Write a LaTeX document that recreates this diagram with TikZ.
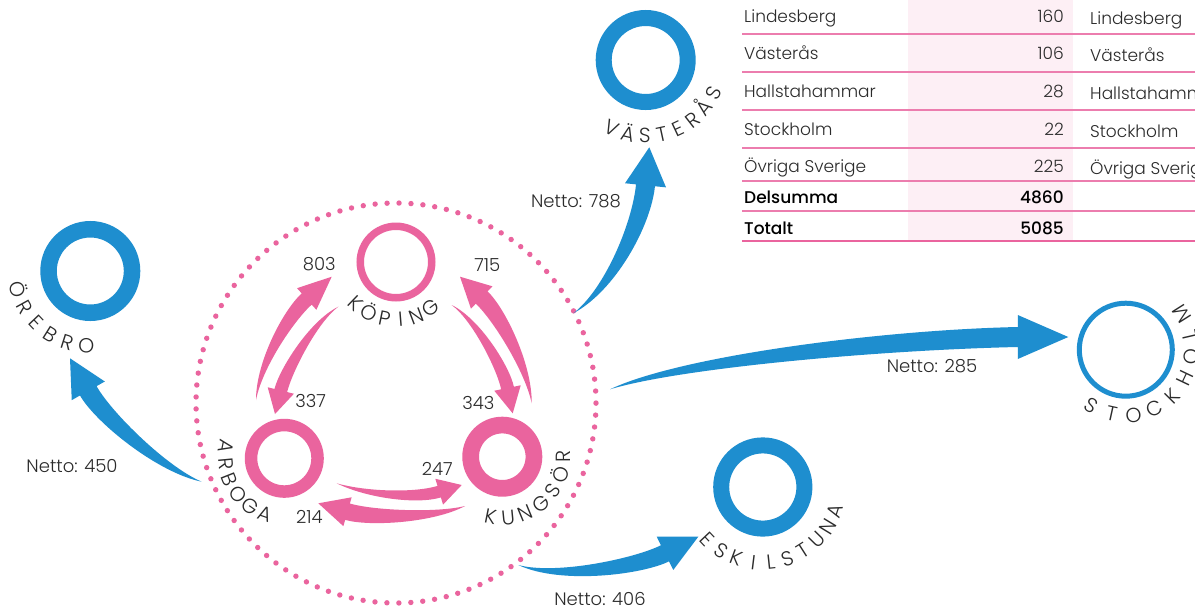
\documentclass[tikz,border=0pt]{standalone}
\usepackage{fontspec}
\setmainfont{Poppins}[UprightFont={* Light},BoldFont={* Medium}]
\usetikzlibrary{calc}
\definecolor{pk}{HTML}{EA649E}
\definecolor{bl}{HTML}{1E8ECF}
\definecolor{tx}{HTML}{2B2B2B}
\definecolor{band}{HTML}{FDEFF5}
\definecolor{rulepk}{HTML}{EC7DAE}
\tikzset{
  lbl/.style={font=\fontsize{20.5}{20.5}\selectfont, text=tx, inner sep=0pt, text height=14pt, text depth=0pt, anchor=center},
  num/.style={font=\fontsize{18}{18}\selectfont, text=tx, inner sep=0pt, text height=13pt, text depth=0pt},
  tbl/.style={font=\fontsize{17}{17}\selectfont, text=tx, inner sep=0pt, text height=12pt, text depth=0pt},
  tblb/.style={font=\fontsize{17}{17}\selectfont\bfseries, text=black, inner sep=0pt, text height=12pt, text depth=0pt},
}
% #1 colour, #2 tail, #3 c1, #4 c2, #5 head base, #6 tip, #7 half body width, #8 head half width
\newcommand\swoosh[8]{%
  \coordinate (sL) at ($(#5)!#7!90:(#6)$);
  \coordinate (sR) at ($(#5)!#7!-90:(#6)$);
  \coordinate (hL) at ($(#5)!#8!90:(#6)$);
  \coordinate (hR) at ($(#5)!#8!-90:(#6)$);
  \fill[#1] (#2) .. controls ($(#3)+0.6*(sL)-0.6*(#5)$) and ($(#4)+(sL)-(#5)$) .. (sL)
     -- (hL) -- (#6) -- (hR) -- (sR)
     .. controls ($(#4)+(sR)-(#5)$) and ($(#3)+0.6*(sR)-0.6*(#5)$) .. (#2) -- cycle;
}
% #1 prefix, #2 centre, #3 radius, #4 start angle, #5 step, #6 letters
\newcommand\ringlabel[6]{%
  \foreach \ch [count=\i from 0] in {#6} {%
    \pgfmathsetmacro\ang{#4+\i*#5}
    \node[lbl, rotate=\ang+90] (#1\i) at ($(#2)+(\ang:#3)$) {\ch};
  }}
\begin{document}
\begin{tikzpicture}[x=1pt,y=1pt]
\useasboundingbox (0,0) rectangle (1195,-606);
\fill[white] (0,0) rectangle (1195,-606);

% ---------- table ----------
\fill[band] (908,0) rectangle (1073,-241);
\foreach \y in {34,72,110,148,181,211}
  \draw[rulepk, line width=1.5pt] (742,-\y) -- (1195,-\y);
\draw[pk, line width=1.6pt] (742,-241) -- (1195,-241);

\node[tbl, anchor=west] (t1a) at (744,-16) {Lindesberg};
\node[tbl, anchor=west] (t2a) at (744,-53) {Västerås};
\node[tbl, anchor=west] (t3a) at (744,-91) {Hallstahammar};
\node[tbl, anchor=west] (t4a) at (744,-129) {Stockholm};
\node[tbl, anchor=west] (t5a) at (744,-166) {Övriga Sverige};
\node[tblb, anchor=west] (t6a) at (744,-197) {Delsumma};
\node[tblb, anchor=west] (t7a) at (744,-228) {Totalt};

\node[tbl, anchor=east] (t1b) at (1064,-16) {160};
\node[tbl, anchor=east] (t2b) at (1064,-53) {106};
\node[tbl, anchor=east] (t3b) at (1064,-91) {28};
\node[tbl, anchor=east] (t4b) at (1064,-129) {22};
\node[tbl, anchor=east] (t5b) at (1064,-166) {225};
\node[tblb, anchor=east] (t6b) at (1064,-197) {4860};
\node[tblb, anchor=east] (t7b) at (1064,-228) {5085};

\node[tbl, anchor=west] (t1c) at (1090,-18) {Lindesberg};
\node[tbl, anchor=west] (t2c) at (1090,-55) {Västerås};
\node[tbl, anchor=west] (t3c) at (1090,-93) {Hallstahammar};
\node[tbl, anchor=west] (t4c) at (1090,-131) {Stockholm};
\node[tbl, anchor=west] (t5c) at (1090,-168) {Övriga Sverige};

% ---------- dotted circle ----------
\draw[pk, line width=5.4pt, line cap=round, dash pattern=on 0pt off 11.968pt] (396,-403) circle (200);

% ---------- centres ----------
\coordinate (kop) at (396,-262);
\coordinate (arb) at (284.3,-458.3);
\coordinate (kun) at (502.3,-456.7);
\coordinate (ore) at (90.3,-271);
\coordinate (vas) at (645.7,-60);
\coordinate (esk) at (762.8,-487);
\coordinate (sto) at (1125.8,-349.7);

% ---------- rings ----------
\draw[pk, line width=7.5pt] (kop) circle (35.75);
\draw[pk, line width=12.5pt] (arb) circle (33.25);
\draw[pk, line width=16.7pt] (kun) circle (31.65);
\draw[bl, line width=16.5pt] (ore) circle (41.75);
\draw[bl, line width=16pt] (vas) circle (42);
\draw[bl, line width=16pt] (esk) circle (41.6);
\draw[bl, line width=5pt] (sto) circle (46.5);

% ---------- ring labels ----------
\ringlabel{lk}{kop}{58}{226}{16.2}{K,Ö,P,I,N,G}
\ringlabel{la}{arb}{59}{168.6}{16.5}{A,R,B,O,G,A}
\ringlabel{lu}{kun}{61}{258.7}{16.9}{K,U,N,G,S,Ö,R}
\ringlabel{lo}{ore}{75}{194.5}{14.5}{Ö,R,E,B,R,O}
\ringlabel{lv}{vas}{76}{243.5}{12.9}{V,Ä,S,T,E,R,Å,S}
\ringlabel{le}{esk}{76}{223.4}{13.17}{E,S,K,I,L,S,T,U,N,A}
\ringlabel{ls}{sto}{66}{238.3}{19.25}{S,T,O,C,K,H,O,L,M}

% ---------- pink arrows ----------
\coordinate (p1T) at (256,-400);   \coordinate (p1a) at (259,-365);
\coordinate (p1b) at (288.4,-315.6); \coordinate (p1B) at (306.7,-299); \coordinate (p1H) at (331.7,-276.7);
\swoosh{pk}{p1T}{p1a}{p1b}{p1B}{p1H}{7.5pt}{14.5pt}

\coordinate (p2T) at (338.3,-306.7); \coordinate (p2a) at (313,-322);
\coordinate (p2b) at (285.6,-371); \coordinate (p2B) at (280.8,-390.5); \coordinate (p2H) at (275,-414);
\swoosh{pk}{p2T}{p2a}{p2b}{p2B}{p2H}{6.5pt}{13.5pt}

\coordinate (p3T) at (451.7,-305); \coordinate (p3a) at (476.7,-320);
\coordinate (p3b) at (503.5,-368.4); \coordinate (p3B) at (507.5,-388); \coordinate (p3H) at (512.7,-413.3);
\swoosh{pk}{p3T}{p3a}{p3b}{p3B}{p3H}{6.5pt}{13.5pt}

\coordinate (p4T) at (531.7,-403.3); \coordinate (p4a) at (528.7,-368);
\coordinate (p4b) at (499.7,-314.8); \coordinate (p4B) at (481.7,-297.5); \coordinate (p4H) at (460,-276.7);
\swoosh{pk}{p4T}{p4a}{p4b}{p4B}{p4H}{8.5pt}{15.5pt}

\coordinate (p5T) at (336.7,-483.3); \coordinate (p5a) at (366.7,-495);
\coordinate (p5b) at (415.3,-498.8); \coordinate (p5B) at (439.2,-491.7); \coordinate (p5H) at (461.7,-485);
\swoosh{pk}{p5T}{p5a}{p5b}{p5B}{p5H}{6pt}{13.5pt}

\coordinate (p6T) at (465,-506); \coordinate (p6a) at (435,-518);
\coordinate (p6b) at (371.5,-518.6); \coordinate (p6B) at (347.5,-511.7); \coordinate (p6H) at (318.3,-503.3);
\swoosh{pk}{p6T}{p6a}{p6b}{p6B}{p6H}{8.5pt}{15pt}

% ---------- blue arrows ----------
\coordinate (b1T) at (573.3,-313.3); \coordinate (b1a) at (610,-290);
\coordinate (b1b) at (641.5,-225); \coordinate (b1B) at (645.5,-185.3); \coordinate (b1H) at (649.3,-147.3);
\swoosh{bl}{b1T}{b1a}{b1b}{b1B}{b1H}{9.5pt}{20.6pt}

\coordinate (b2T) at (201.7,-481.7); \coordinate (b2a) at (161.7,-469.7);
\coordinate (b2b) at (103,-417); \coordinate (b2B) at (88.3,-390.8); \coordinate (b2H) at (70,-358.3);
\swoosh{bl}{b2T}{b2a}{b2b}{b2B}{b2H}{9.5pt}{19pt}

\coordinate (b3T) at (610,-389.3); \coordinate (b3a) at (680,-362);
\coordinate (b3b) at (880,-340); \coordinate (b3B) at (1017.8,-337); \coordinate (b3H) at (1068.3,-337);
\swoosh{bl}{b3T}{b3a}{b3b}{b3B}{b3H}{10pt}{22pt}

\coordinate (b4T) at (518.3,-565); \coordinate (b4a) at (558,-580);
\coordinate (b4b) at (638,-566.7); \coordinate (b4B) at (665,-553.3); \coordinate (b4H) at (698.3,-536.7);
\swoosh{bl}{b4T}{b4a}{b4b}{b4B}{b4H}{9pt}{18.6pt}

% ---------- numbers ----------
\node[num] (n803) at (319.3,-264) {803};
\node[num] (n715) at (487.3,-265) {715};
\node[num] (n337) at (310.7,-401) {337};
\node[num] (n343) at (478.3,-403.3) {343};
\node[num] (n247) at (437.3,-469.3) {247};
\node[num] (n214) at (309.3,-517.3) {214};
\node[num] (net788) at (576,-201) {Netto: 788};
\node[num] (net450) at (72,-466) {Netto: 450};
\node[num] (net285) at (932,-366) {Netto: 285};
\node[num] (net406) at (600,-599) {Netto: 406};
\end{tikzpicture}
\end{document}
